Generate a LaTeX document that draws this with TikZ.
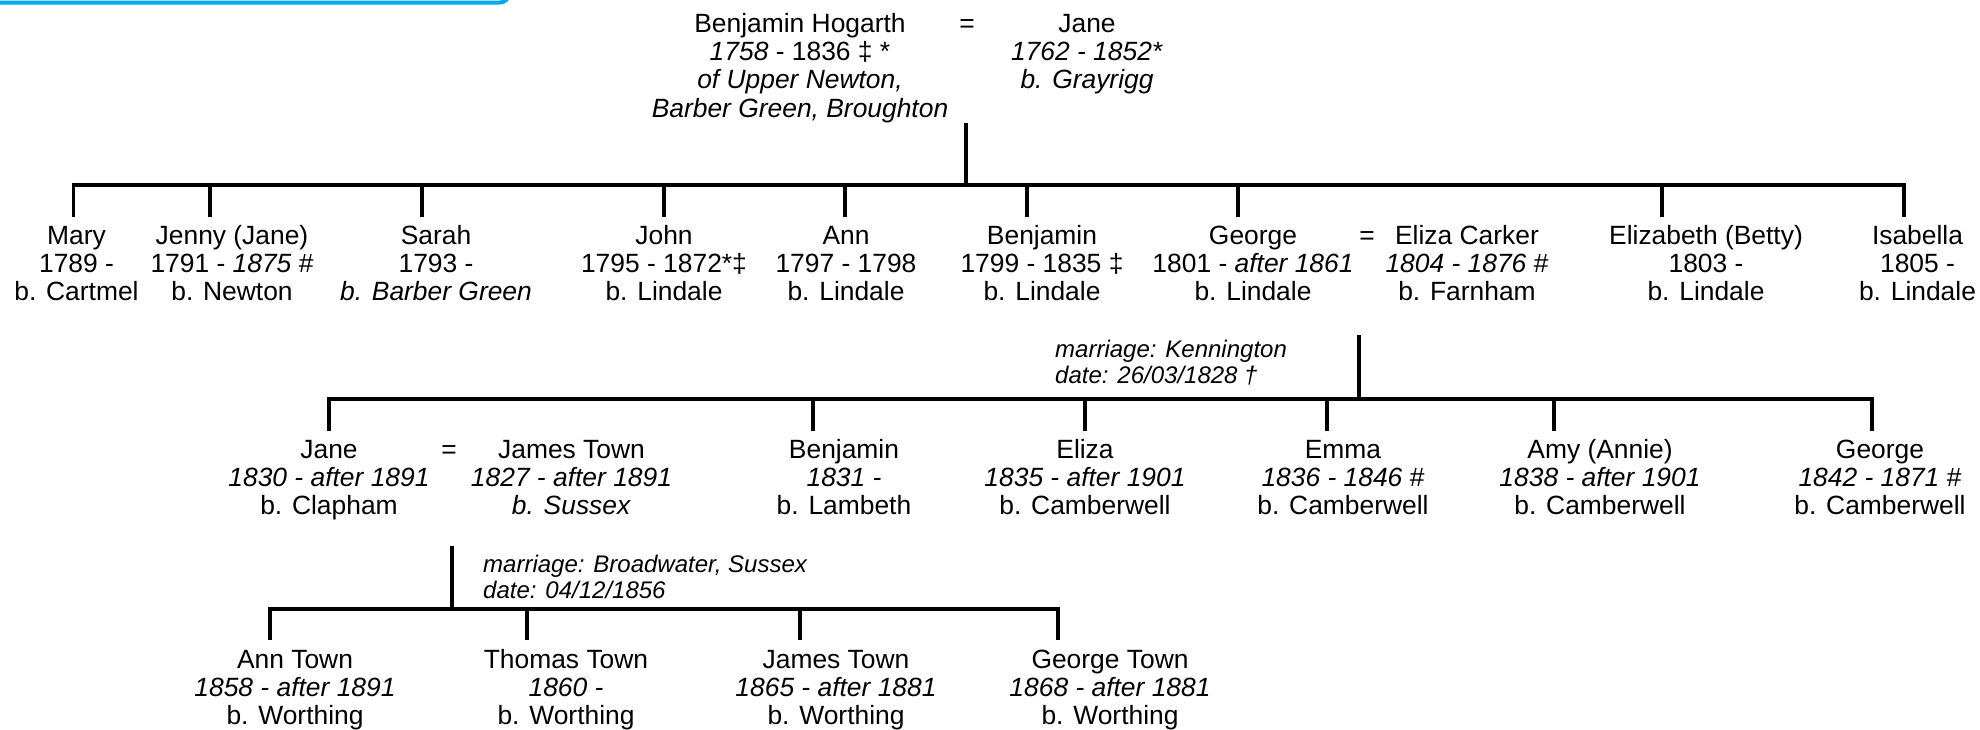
\documentclass[tikz,border=0pt]{standalone}
\usepackage{fontspec}
\setmainfont{Liberation Sans}
\definecolor{boxblue}{RGB}{10,168,240}
\newcommand\hs{\rule{0pt}{29pt}}
\newcommand\ms{\rule{0pt}{24pt}}
\begin{document}
\begin{tikzpicture}[x=1pt,y=-1pt,
  person/.style={align=center, anchor=north, inner sep=0pt, font=\fontsize{26.4}{28.3}\selectfont},
  eqsign/.style={anchor=base, inner sep=0pt, font=\fontsize{26.4}{28.3}\selectfont},
  mlabel/.style={align=left, anchor=north west, inner sep=0pt, font=\fontsize{24}{26.5}\selectfont\itshape},
  link/.style={line width=3.2pt, line join=miter, line cap=rect}]
\useasboundingbox (0,0) rectangle (1980,729);
\draw[rounded corners=9pt, line width=4pt, draw=boxblue] (-40,-40) rectangle (509,2.5);

% ---- generation 0
\node[person] (bh) at (800,3) {\hs Benjamin Hogarth\\ \textit{1758} - 1836 ‡ *\\ \textit{of Upper Newton,}\\ \textit{Barber Green, Broughton}};
\node[eqsign] (eq0) at (967,32) {=};
\node[person] (jane0) at (1087,3) {\hs Jane\\ \textit{1762 - 1852*}\\ \textit{b. Grayrigg}};

% ---- generation 1
\node[person] (mary) at (76.5,215) {\hs Mary\\ 1789 -\\ b. Cartmel};
\node[person] (jenny) at (232,215) {\hs Jenny (Jane)\\ 1791 - \textit{1875} \#\\ b. Newton};
\node[person] (sarah) at (436,215) {\hs Sarah\\ 1793 -\\ \textit{b. Barber Green}};
\node[person] (john) at (664,215) {\hs John\\ 1795 - 1872*‡\\ b. Lindale};
\node[person] (ann) at (846,215) {\hs Ann\\ 1797 - 1798\\ b. Lindale};
\node[person] (benj) at (1042,215) {\hs Benjamin\\ 1799 - 1835 ‡\\ b. Lindale};
\node[person] (george) at (1253,215) {\hs George\\ 1801 - \textit{after 1861}\\ b. Lindale};
\node[eqsign] (eq1) at (1367,244) {=};
\node[person] (elizac) at (1467,215) {\hs Eliza Carker\\ \textit{1804 - 1876} \#\\ b. Farnham};
\node[person] (betty) at (1706,215) {\hs Elizabeth (Betty)\\ 1803 -\\ b. Lindale};
\node[person] (isab) at (1917.5,215) {\hs Isabella\\ 1805 -\\ b. Lindale};

\node[mlabel] (mar1) at (1055,333) {\ms marriage: Kennington\\ date: 26/03/1828 †};

% ---- generation 2
\node[person] (jane2) at (329,429) {\hs Jane\\ \textit{1830 - after 1891}\\ b. Clapham};
\node[eqsign] (eq2) at (449,458) {=};
\node[person] (james2) at (571.5,429) {\hs James Town\\ \textit{1827 - after 1891}\\ \textit{b. Sussex}};
\node[person] (benj2) at (844,429) {\hs Benjamin\\ \textit{1831 -}\\ b. Lambeth};
\node[person] (eliza2) at (1085,429) {\hs Eliza\\ \textit{1835 - after 1901}\\ b. Camberwell};
\node[person] (emma2) at (1343,429) {\hs Emma\\ \textit{1836 - 1846} \#\\ b. Camberwell};
\node[person] (amy2) at (1600,429) {\hs Amy (Annie)\\ \textit{1838 - after 1901}\\ b. Camberwell};
\node[person] (george2) at (1880,429) {\hs George\\ \textit{1842 - 1871} \#\\ b. Camberwell};

\node[mlabel] (mar2) at (483,548) {\ms marriage: Broadwater, Sussex\\ date: 04/12/1856};

% ---- generation 3
\node[person] (ann3) at (295,639) {\hs Ann Town\\ \textit{1858 - after 1891}\\ b. Worthing};
\node[person] (thomas3) at (566,639) {\hs Thomas Town\\ \textit{1860 -}\\ b. Worthing};
\node[person] (james3) at (836,639) {\hs James Town\\ \textit{1865 - after 1881}\\ b. Worthing};
\node[person] (george3) at (1110,639) {\hs George Town\\ \textit{1868 - after 1881}\\ b. Worthing};

% ---- junction coordinates
\coordinate (u0) at (966,125); \coordinate (b0) at (966,185);
\coordinate (dmary) at (73.7,215); \coordinate (djenny) at (210,215);
\coordinate (dsarah) at (422,215); \coordinate (djohn) at (664,215);
\coordinate (dann) at (845,215); \coordinate (dbenj) at (1027,215);
\coordinate (dgeorge) at (1238,215); \coordinate (dbetty) at (1662,215);
\coordinate (disab) at (1904,215);

\coordinate (u1) at (1359,337); \coordinate (b1) at (1359,399);
\coordinate (djane2) at (329,429); \coordinate (dbenj2) at (813,429);
\coordinate (deliza2) at (1085,429); \coordinate (demma2) at (1327,429);
\coordinate (damy2) at (1554,429); \coordinate (dgeorge2) at (1872,429);

\coordinate (u2) at (452,548); \coordinate (b2) at (452,609);
\coordinate (dann3) at (270,638); \coordinate (dthomas3) at (527,638);
\coordinate (djames3) at (800,638); \coordinate (dgeorge3) at (1058,638);

% ---- connectors
\draw[link] (u0) -- (b0);
\draw[link] (dmary) -- (dmary |- b0) -- (disab |- b0) -- (disab);
\foreach \d in {djenny,dsarah,djohn,dann,dbenj,dgeorge,dbetty}
  \draw[link] (\d |- b0) -- (\d);

\draw[link] (u1) -- (b1);
\draw[link] (djane2) -- (djane2 |- b1) -- (dgeorge2 |- b1) -- (dgeorge2);
\foreach \d in {dbenj2,deliza2,demma2,damy2}
  \draw[link] (\d |- b1) -- (\d);

\draw[link] (u2) -- (b2);
\draw[link] (dann3) -- (dann3 |- b2) -- (dgeorge3 |- b2) -- (dgeorge3);
\foreach \d in {dthomas3,djames3}
  \draw[link] (\d |- b2) -- (\d);
\end{tikzpicture}
\end{document}
